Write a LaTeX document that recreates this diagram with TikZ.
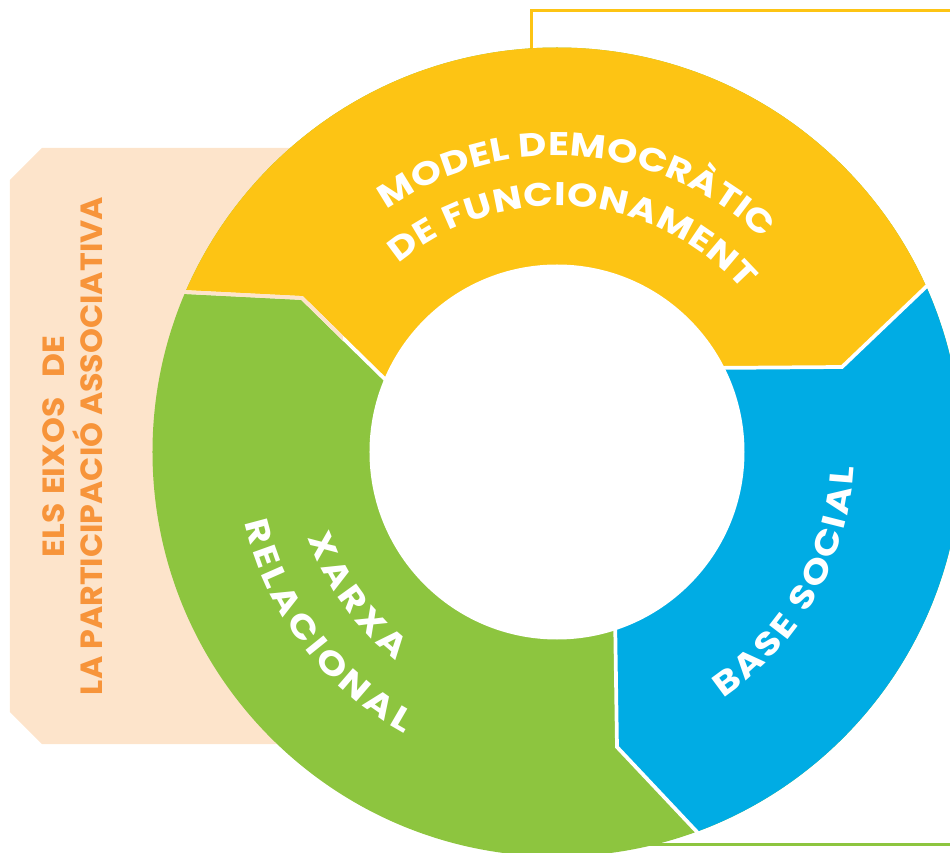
\documentclass[tikz,border=0pt]{standalone}
\usepackage{fontspec}
\setmainfont{Poppins}
\newfontfamily\ringfam{Poppins}[FakeStretch=1.18]
\usetikzlibrary{decorations.text}
\definecolor{ringyellow}{HTML}{FDC414}
\definecolor{ringgreen}{HTML}{8DC53F}
\definecolor{ringblue}{HTML}{00ACE4}
\definecolor{peach}{HTML}{FDE4CB}
\definecolor{titleorange}{HTML}{F7943A}
\newsavebox\fitbox
\newlength\fitlen
\newcommand\fitto[2]{\sbox\fitbox{#2}\setlength\fitlen{\wd\fitbox}\pgfmathsetmacro\fitfac{#1/\fitlen}\scalebox{\fitfac}[1]{\usebox\fitbox}}
\newcommand\ringfont{\ringfam\fontsize{24.6pt}{26pt}\selectfont\bfseries}
\newcommand\leftfont{\fontsize{23pt}{24pt}\selectfont\bfseries}
\begin{document}
\begin{tikzpicture}[x=0.75pt,y=0.75pt,
  ringtext/.style={decorate, decoration={text along path, text color=white, text align=fit to path}},
  gap/.style={white, line width=2.8pt},
  lefttext/.style={text=titleorange, inner sep=0pt, anchor=base, rotate=90}]
\useasboundingbox (-557,-401) rectangle (393,452);
\clip (-557,-401) rectangle (393,452);
% divider points
\coordinate (i1) at (-158,59);  \coordinate (k1) at (-255,154); \coordinate (o1) at (-373,160);
\coordinate (i2) at (150,84);   \coordinate (k2) at (285,85);   \coordinate (o2) at (372,168);
\coordinate (i3) at (58,-160);  \coordinate (k3) at (60,-295);  \coordinate (o3) at (141,-381);
% peach panel
\fill[peach] (-515,304) -- (-214,304) -- (-214,-292) -- (-515,-292) -- (-547,-260) -- (-547,272) -- cycle;
% connectors
\coordinate (yS) at (-25.5,400);
\coordinate (yE) at (400,441.5);
\draw[ringyellow, line width=2.3pt] (yS) |- (yE);
\coordinate (gS) at (60,-392.5);
\coordinate (gE) at (400,-392.5);
\draw[ringgreen, line width=2.2pt] (gS) -- (gE);
% ring
\fill[ringgreen] (0,0) circle[radius=404.5];
\begin{scope}
\clip (0,0) circle[radius=404.5];
\fill[ringyellow] (0,0) -- (i1) -- (k1) -- (o1) -- (-600,172) -- (-600,600) -- (620,600) -- (620,404) -- (o2) -- (k2) -- (i2) -- cycle;
\fill[ringblue] (0,0) -- (i2) -- (k2) -- (o2) -- (620,404) -- (620,-627) -- (372,-627) -- (o3) -- (k3) -- (i3) -- cycle;
\end{scope}
\draw[gap] (i1) -- (k1) -- (o1);
\draw[gap] (i2) -- (k2) -- (o2);
\draw[gap] (i3) -- (k3) -- (o3);
\fill[white] (0,0) circle[radius=187.5];
\begin{scope}
\clip (-515,304) -- (-214,304) -- (-214,-292) -- (-515,-292) -- (-547,-260) -- (-547,272) -- cycle;
\draw[gap, peach] (i1) -- (k1) -- (o1);
\end{scope}
% ring texts
\path[ringtext, decoration={text={|\ringfont|MODEL DEMOCRÀTIC}}] (125:296) arc[start angle=125, end angle=46, radius=296];
\path[ringtext, decoration={text={|\ringfont|DE FUNCIONAMENT}}] (130:246) arc[start angle=130, end angle=41, radius=246];
\path[ringtext, decoration={text={|\ringfont|BASE SOCIAL}}] (-56:297) arc[start angle=-56, end angle=-3, radius=297];
\path[ringtext, decoration={text={|\ringfont|XARXA}}] (199:263) arc[start angle=199, end angle=232.5, radius=263];
\path[ringtext, decoration={text={|\ringfont|RELACIONAL}}] (192.7:320) arc[start angle=192.7, end angle=241.5, radius=320];
% left title
\node[lefttext] (title1) at (-492,5.5) {\fitto{165.75}{\leftfont ELS\kern0.25em EIXOS\kern0.6em DE}};
\node[lefttext] (title2) at (-454,6) {\fitto{373.5}{\leftfont LA PARTICIPACIÓ ASSOCIATIVA}};
\end{tikzpicture}
\end{document}
